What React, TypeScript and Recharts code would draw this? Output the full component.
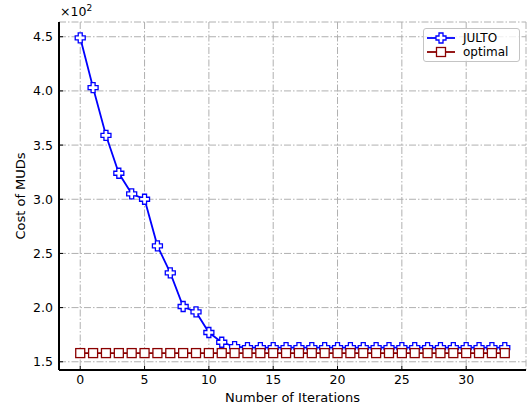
import React from "react";
import {
  LineChart,
  Line,
  XAxis,
  YAxis,
  CartesianGrid,
  Legend,
  Label,
} from "recharts";

// Values (cost in units, axis shows x10^2)
const iterations = [
  0, 1, 2, 3, 4, 5, 6, 7, 8, 9, 10, 11, 12, 13, 14, 15, 16,
  17, 18, 19, 20, 21, 22, 23, 24, 25, 26, 27, 28, 29, 30, 31, 32, 33,
];
const julto = [
  449, 403, 359, 324, 305, 300, 257, 232, 201, 196, 177, 168, 164, 163, 163, 163, 163,
  163, 163, 163, 163, 163, 163, 163, 163, 163, 163, 163, 163, 163, 163, 163, 163, 163,
];
const optimal = [
  158, 158, 158, 158, 158, 158, 158, 158, 158, 158, 158, 158, 158, 158, 158, 158, 158,
  158, 158, 158, 158, 158, 158, 158, 158, 158, 158, 158, 158, 158, 158, 158, 158, 158,
];
const xTicks = [0, 5, 10, 15, 20, 25, 30];
const yTicks = [150, 200, 250, 300, 350, 400, 450];

const data = iterations.map((it, i) => ({
  it,
  julto: julto[i],
  optimal: optimal[i],
}));

const FONT = "'DejaVu Sans', sans-serif";
const BLUE = "#0000ff";
const RED = "#8b0000";

const plusPath = (cx: number, cy: number, s: number, a: number) =>
  `M${cx - a},${cy - s} L${cx + a},${cy - s} L${cx + a},${cy - a} L${cx + s},${cy - a} ` +
  `L${cx + s},${cy + a} L${cx + a},${cy + a} L${cx + a},${cy + s} L${cx - a},${cy + s} ` +
  `L${cx - a},${cy + a} L${cx - s},${cy + a} L${cx - s},${cy - a} L${cx - a},${cy - a} Z`;

const PlusDot = (props: any) => {
  const { cx, cy } = props;
  if (cx == null || cy == null) return null;
  return (
    <path d={plusPath(cx, cy, 5, 2)} fill="#fff" stroke={BLUE} strokeWidth={1.3} />
  );
};

const SquareDot = (props: any) => {
  const { cx, cy } = props;
  if (cx == null || cy == null) return null;
  return (
    <rect x={cx - 4.5} y={cy - 4.5} width={9} height={9} fill="#fff" stroke={RED} strokeWidth={1.3} />
  );
};

const legendItems = [
  { name: "JULTO", color: BLUE, marker: "plus" },
  { name: "optimal", color: RED, marker: "square" },
];

const LegendBox = () => (
  <div
    style={{
      boxSizing: "border-box",
      width: 97,
      border: "1px solid #c4c4c4",
      borderRadius: 3,
      background: "rgba(255,255,255,0.8)",
      padding: "2px 3px",
      fontFamily: FONT,
      fontSize: 12,
    }}
  >
    {legendItems.map((e) => (
      <div key={e.name} style={{ display: "flex", alignItems: "center", height: 14 }}>
        <svg width={28} height={14} style={{ marginRight: 8, flex: "none" }}>
          <line x1={0} x2={28} y1={7} y2={7} stroke={e.color} strokeWidth={1.8} />
          {e.marker === "plus" ? (
            <path d={plusPath(14, 7, 5, 2)} fill="#fff" stroke={e.color} strokeWidth={1.3} />
          ) : (
            <rect x={9.5} y={2.5} width={9} height={9} fill="#fff" stroke={e.color} strokeWidth={1.3} />
          )}
        </svg>
        <span style={{ display: "block", lineHeight: "14px" }}>{e.name}</span>
      </div>
    ))}
  </div>
);

const ScaleLabel = (props: any) => {
  const { viewBox } = props;
  const x = (viewBox?.x ?? 0) + (viewBox?.width ?? 59);
  const y = viewBox?.y ?? 22;
  return (
    <text x={x + 1} y={y - 6} fontFamily={FONT} fontSize={12.5} fill="#000">
      ×10
      <tspan dy={-5} fontSize={9}>
        2
      </tspan>
    </text>
  );
};

const tickStyle = { fontFamily: FONT, fontSize: 12.5, fill: "#000" };
const labelStyle = { fontFamily: FONT, fontSize: 13, fill: "#000" };

export default function App() {
  return (
    <div style={{ position: "absolute", left: 0, top: 0, width: 530, height: 411, background: "#fff" }}>
      <LineChart
        width={530}
        height={411}
        data={data}
        margin={{ top: 22, right: 4, left: 0, bottom: 0 }}
      >
        <CartesianGrid
          stroke="#b0b0b0"
          strokeDasharray="7 2 1.5 2"
          strokeWidth={1}
        />
        <XAxis
          dataKey="it"
          type="number"
          domain={[-1.65, 34.65]}
          ticks={xTicks}
          allowDataOverflow
          height={41}
          tickSize={-4}
          tickMargin={9}
          tick={tickStyle}
          tickLine={{ stroke: "#000", strokeWidth: 1 }}
          axisLine={{ stroke: "#000", strokeWidth: 2 }}
        >
          <Label value="Number of Iterations" position="insideBottom" offset={9} style={labelStyle} />
        </XAxis>
        <XAxis
          xAxisId="top"
          orientation="top"
          dataKey="it"
          type="number"
          domain={[-1.65, 34.65]}
          height={0}
          tick={false}
          tickLine={false}
          axisLine={{ stroke: "#000", strokeWidth: 2 }}
        />
        <YAxis
          type="number"
          domain={[142.4, 463.6]}
          ticks={yTicks}
          allowDataOverflow
          width={59}
          tickSize={-4}
          tickMargin={10}
          tick={tickStyle}
          tickFormatter={(v: number) => (v / 100).toFixed(1)}
          tickLine={{ stroke: "#000", strokeWidth: 1 }}
          axisLine={{ stroke: "#000", strokeWidth: 2 }}
        >
          <Label
            value="Cost of MUDs"
            angle={-90}
            position="insideLeft"
            offset={20}
            style={{ ...labelStyle, textAnchor: "middle" }}
          />
          <Label content={ScaleLabel} />
        </YAxis>
        <YAxis
          yAxisId="right"
          orientation="right"
          type="number"
          domain={[142.4, 463.6]}
          width={0}
          tick={false}
          tickLine={false}
          axisLine={{ stroke: "#000", strokeWidth: 2 }}
        />
        <Legend
          layout="horizontal"
          verticalAlign="middle"
          align="center"
          content={() => <LegendBox />}
          wrapperStyle={{ position: "absolute", top: 28, left: 423, width: 97 }}
        />
        <Line
          type="linear"
          dataKey="julto"
          name="JULTO"
          stroke={BLUE}
          strokeWidth={1.8}
          dot={<PlusDot />}
          isAnimationActive={false}
        />
        <Line
          type="linear"
          dataKey="optimal"
          name="optimal"
          stroke={RED}
          strokeWidth={1.8}
          dot={<SquareDot />}
          isAnimationActive={false}
        />
      </LineChart>
    </div>
  );
}
